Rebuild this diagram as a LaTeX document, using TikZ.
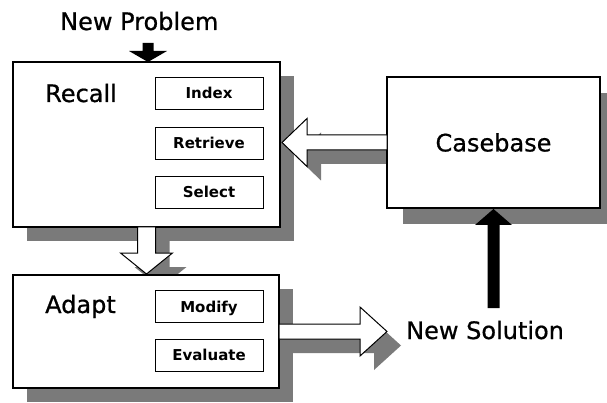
\documentclass[tikz,border=0pt]{standalone}
\usepackage{fontspec}
\setmainfont{DejaVu Sans}
\newfontfamily\heavyfont[FakeBold=0.7]{DejaVu Sans}
\usetikzlibrary{shadows,calc}
\pgfdeclarelayer{bg}
\pgfsetlayers{bg,main}
\definecolor{shade}{gray}{0.48}
% #1 style, #2 origin, #3 angle, #4 length, #5 shaft half width, #6 head half width, #7 head length
\newcommand\blockarrow[7]{\path[#1, shift={#2}, rotate=#3] (0,-#5) -- ({#4-#7},-#5) -- ({#4-#7},-#6) -- (#4,0) -- ({#4-#7},#6) -- ({#4-#7},#5) -- (0,#5) -- cycle;}
\begin{document}
\begin{tikzpicture}[x=1pt,y=-1pt,
  box/.style={draw, line width=1.2pt, fill=white, rectangle, inner sep=0pt, outer sep=0pt},
  sub/.style={draw, line width=0.9pt, fill=white, minimum width=108pt, minimum height=32pt, inner sep=0pt, text height=11pt, text depth=0pt, font=\fontsize{15}{18}\selectfont\bfseries},
  lbl/.style={inner sep=0pt, font=\heavyfont\fontsize{24}{28}\selectfont},
  shad/.style={drop shadow={shadow xshift=#1, shadow yshift=-#1, opacity=1, fill=shade}},
  wa/.style={draw, fill=white, line width=1pt, line join=miter},
  wshadow/.style={fill=shade},
  ba/.style={fill=black}]
\useasboundingbox (0,0) rectangle (607,403);
\clip (0,0) rectangle (607,403);

% main boxes
\node[box, shad=14pt, minimum width=267pt, minimum height=165pt] (rc) at (146.5,144.5) {};
\node[box, shad=16pt, minimum width=213pt, minimum height=131pt, font=\heavyfont\fontsize{24}{28}\selectfont] (cb) at (493.5,142.5) {Casebase};
\node[box, shad=14pt, minimum width=266pt, minimum height=113pt] (ad) at (146,331.5) {};

% sub boxes
\node[sub] (ix) at (209,93.5) {Index};
\node[sub] (rt) at (209,143.5) {Retrieve};
\node[sub] (sl) at (209,192.5) {Select};
\node[sub] (md) at (209,306.5) {Modify};
\node[sub] (ev) at (209,355) {Evaluate};

% labels
\node[lbl, anchor=base west] (rl) at (45,102) {Recall};
\node[lbl, anchor=base west] (al) at (45,313) {Adapt};
\node[lbl, anchor=base west] (np) at (60,30) {New Problem};
\node[lbl, anchor=base west] (ns) at (406,339) {New Solution};

% arrow shadows
\begin{pgfonlayer}{bg}
\blockarrow{wshadow}{($(cb.west)+(14,14)$)}{180}{105}{7.5}{24}{25}
\blockarrow{wshadow}{($(rc.south)+(14,14)$)}{-90}{47}{9}{26}{21}
\blockarrow{wshadow}{($(ad.east)+(14,14)$)}{0}{108}{7.5}{24.5}{27}
\end{pgfonlayer}

% arrows
\blockarrow{wa}{(cb.west)}{180}{105}{7.5}{24}{25}
\blockarrow{wa}{(rc.south)}{-90}{47}{9}{26}{21}
\blockarrow{wa}{(ad.east)}{0}{108}{7.5}{24.5}{27}
\blockarrow{ba}{($(cb.south)+(0,100)$)}{90}{99}{6}{18.5}{16}
\blockarrow{ba}{($(rc.north)+(1.5,-19)$)}{-90}{19}{5.5}{19}{11}
\end{tikzpicture}
\end{document}
